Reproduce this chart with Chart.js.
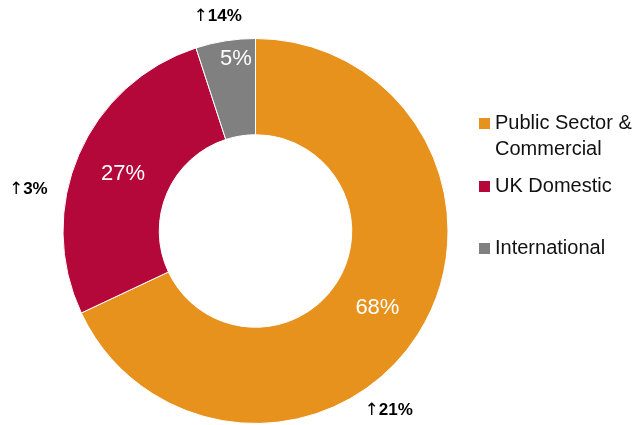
<!DOCTYPE html>
<html>
<head>
<meta charset="utf-8">
<script src="https://cdn.jsdelivr.net/npm/chart.js@4.4.1/dist/chart.umd.min.js"></script>
<style>
  html, body { margin: 0; padding: 0; background: #fff; }
  #wrap { position: relative; width: 642px; height: 425px; }
</style>
</head>
<body>
<div id="wrap"><canvas id="revenueMix"></canvas></div>
<script>
// Revenue split by segment
const segments = ['Public Sector & Commercial', 'UK Domestic', 'International'];
const legendLines = [['Public Sector &', 'Commercial'], ['UK Domestic'], ['International']];
const shares = [68, 27, 5];
const growth = ['21%', '3%', '14%'];
const colors = ['#E8921E', '#B5083A', '#808080'];

// where the share / growth labels sit: angle offset (deg) and radius factor
const sharePos = [
    { da: 0, r: 0.75 },
    { da: 0, r: 0.75 },
    { da: 2.5, r: 0.9 }
];
const growthPos = [
    { da: 21, r: 1.16 },
    { da: -13, r: 1.2 },
    { da: -1, r: 1.13 }
];

const labelsPlugin = {
    id: 'labelsPlugin',
    afterDatasetsDraw(chart) {
        const ctx = chart.ctx;
        const arcs = chart.getDatasetMeta(0).data;
        ctx.save();
        arcs.forEach((arc, i) => {
            const { x, y, startAngle, endAngle, outerRadius } = arc.getProps(['x', 'y', 'startAngle', 'endAngle', 'outerRadius'], true);
            const mid = (startAngle + endAngle) / 2;

            // share inside the ring
            const sa = mid + sharePos[i].da * Math.PI / 180;
            const r = outerRadius * sharePos[i].r;
            ctx.fillStyle = '#fff';
            ctx.font = '22px "Liberation Sans", Arial, sans-serif';
            ctx.textAlign = 'center';
            ctx.textBaseline = 'middle';
            ctx.fillText(shares[i] + '%', x + Math.cos(sa) * r, y + Math.sin(sa) * r);

            // growth marker outside the ring
            const a = mid + growthPos[i].da * Math.PI / 180;
            const gr = outerRadius * growthPos[i].r;
            const gx = x + Math.cos(a) * gr;
            const gy = y + Math.sin(a) * gr;
            ctx.fillStyle = '#000';
            ctx.font = '17px "DejaVu Sans", sans-serif';
            const arrow = '\u2191';
            const aw = ctx.measureText(arrow).width;
            ctx.font = 'bold 17px "Liberation Sans", Arial, sans-serif';
            const tw = ctx.measureText(growth[i]).width;
            const left = gx - (aw + tw) / 2;
            ctx.textAlign = 'left';
            ctx.font = '17px "DejaVu Sans", sans-serif';
            ctx.fillText(arrow, left, gy);
            ctx.font = 'bold 17px "Liberation Sans", Arial, sans-serif';
            ctx.fillText(growth[i], left + aw, gy);
        });

        // legend on the right
        const legendTop = [123, 186, 248];
        ctx.textAlign = 'left';
        ctx.textBaseline = 'middle';
        ctx.font = '20px "Liberation Sans", Arial, sans-serif';
        legendLines.forEach((lines, i) => {
            ctx.fillStyle = colors[i];
            ctx.fillRect(479, legendTop[i] - 5, 11, 11);
            ctx.fillStyle = '#111';
            lines.forEach((line, j) => {
                ctx.fillText(line, 495, legendTop[i] + j * 26);
            });
        });
        ctx.restore();
    }
};

new Chart(document.getElementById('revenueMix'), {
    type: 'doughnut',
    data: {
        labels: segments,
        datasets: [{
            data: shares,
            backgroundColor: colors,
            borderColor: '#fff',
            borderWidth: 1
        }]
    },
    options: {
        responsive: true,
        maintainAspectRatio: false,
        animation: false,
        cutout: '50%',
        layout: { padding: { left: 62, right: 193, top: 38, bottom: 1 } },
        plugins: {
            legend: { display: false },
            tooltip: { enabled: false }
        }
    },
    plugins: [labelsPlugin]
});
</script>
</body>
</html>
